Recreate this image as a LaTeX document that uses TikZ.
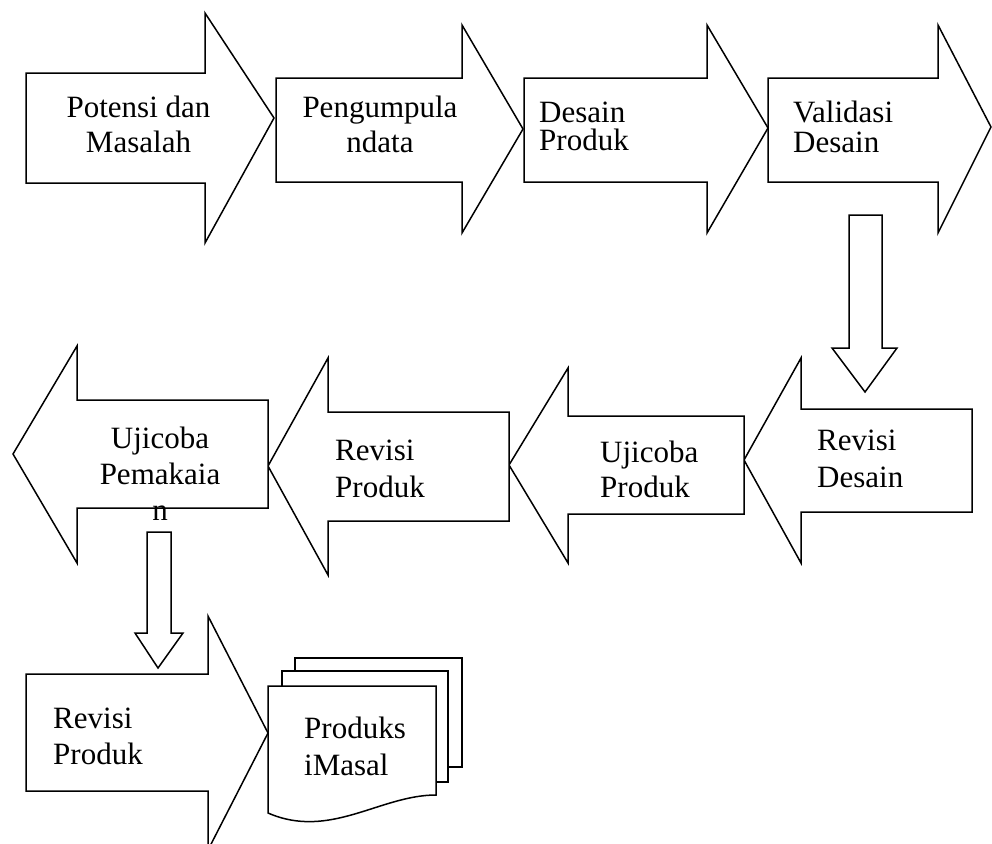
\documentclass[tikz,border=0pt]{standalone}
\usepackage{fontspec}
\setmainfont{Liberation Serif}
\usetikzlibrary{positioning}

% block arrow pointing left/right: body x, body top, body bottom, neck x, head top, head bottom, tip x, tip y
\newcommand{\harrow}[8]{%
  \draw[blk] (#1,#2) -- (#4,#2) -- (#4,#5) -- (#7,#8) -- (#4,#6) -- (#4,#3) -- (#1,#3) -- cycle;}
% block arrow pointing down: shaft top, shaft left, shaft right, neck y, head left, head right, tip x, tip y
\newcommand{\varrow}[8]{%
  \draw[blk] (#2,#1) -- (#2,#4) -- (#5,#4) -- (#7,#8) -- (#6,#4) -- (#3,#4) -- (#3,#1) -- cycle;}

\begin{document}
\begin{tikzpicture}[
  x=1pt, y=-1pt,
  blk/.style={draw, line width=1.5pt, fill=white, line join=miter},
  lbl/.style={inner sep=0pt, align=left, font=\fontsize{31}{35}\selectfont},
  clbl/.style={lbl, align=center, anchor=base},
  llbl/.style={lbl, anchor=base west}]

\clip (0,0) rectangle (992,843);
\fill[white] (0,0) rectangle (992,843);

% Row 1: left to right (labels sit on the baseline of their last line)
\harrow{26}{73}{183}{205}{13}{243}{274}{118}
\harrow{276}{78}{182}{462}{25}{233}{523}{129}
\harrow{524}{78}{182}{707}{25}{233}{768}{128}
\harrow{768}{78}{182}{938}{25}{233}{991}{127}
\node[clbl] (potensi) at (138.5,152) {Potensi dan\\Masalah};
\node[clbl] (data) at (380,152) {Pengumpula\\ndata};
\node[llbl, font=\fontsize{31}{28}\selectfont] (desain) at (539,150) {Desain\\Produk};
\node[llbl, font=\fontsize{31}{30}\selectfont] (validasi) at (793,152) {Validasi\\Desain};

% down to row 2
\varrow{215}{849}{882}{348}{832}{897}{865}{392}

% Row 2: right to left
\harrow{972}{409}{512}{801}{358}{563}{744}{460}
\harrow{744}{416}{514}{568}{368}{563}{509}{465}
\harrow{509}{412}{521}{328}{358}{575}{268}{466}
\harrow{268}{400}{508}{77}{346}{563}{13}{454}
\node[llbl, font=\fontsize{31}{37}\selectfont] (revdesain) at (817,487) {Revisi\\Desain};
\node[llbl] (ujiproduk) at (600,497) {Ujicoba\\Produk};
\node[llbl, font=\fontsize{31}{37}\selectfont] (revproduk) at (335,497) {Revisi\\Produk};
\node[clbl, font=\fontsize{31}{36}\selectfont] (ujipakai) at (160,520) {Ujicoba\\Pemakaia\\n};

% down to row 3
\varrow{532}{147}{171}{633}{135}{183}{158}{668}

% Row 3: last revision and mass production
\harrow{26}{674}{791}{208}{616}{850}{268}{733}
\node[llbl, font=\fontsize{31}{36}\selectfont] (revakhir) at (53,764) {Revisi\\Produk};

% stacked documents
\draw[blk] (295,658) rectangle (462,767);
\draw[blk] (282,671) rectangle (448,782);
\draw[blk] (268,686) -- (436,686) -- (436,795)
  .. controls (380,795) and (330,840) .. (268,813) -- cycle;
\node[llbl, font=\fontsize{31}{37}\selectfont] (masal) at (304,775) {Produks\\iMasal};
\end{tikzpicture}
\end{document}
